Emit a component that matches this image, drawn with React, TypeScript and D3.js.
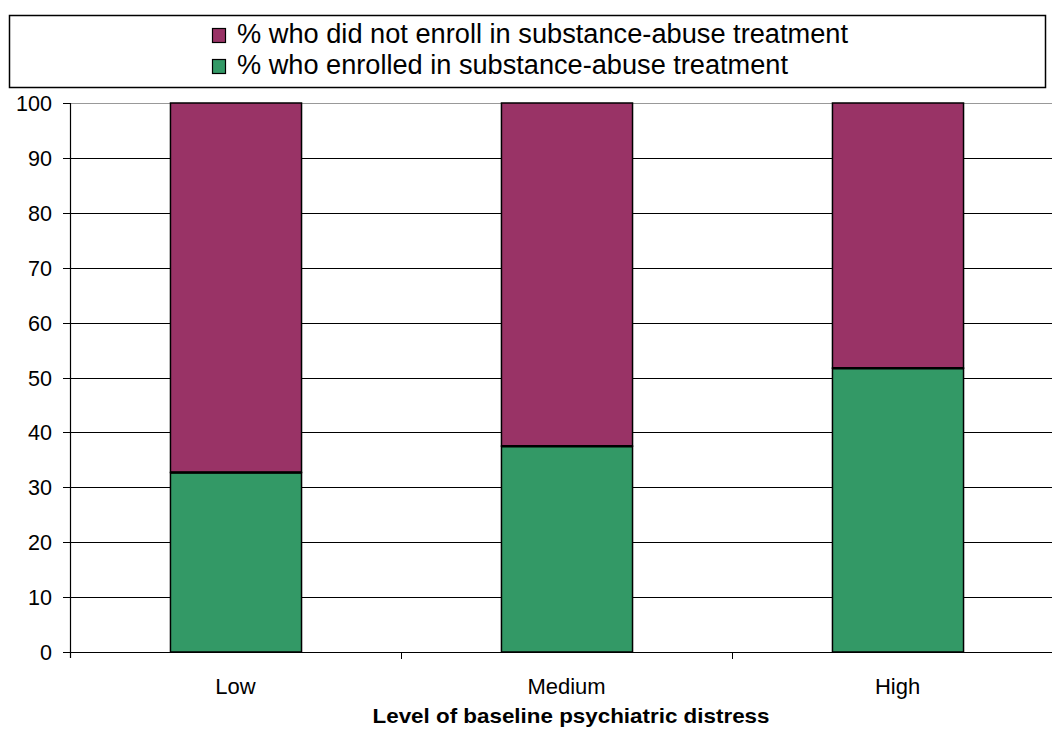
import React from "react";
import * as d3 from "d3";

const categories = ["Low", "Medium", "High"];
const enrolled = [32.7, 37.5, 51.7];
const notEnrolled = [67.3, 62.5, 48.3];
const seriesNames = [
  "% who did not enroll in substance-abuse treatment",
  "% who enrolled in substance-abuse treatment",
];
const yTicks = [0, 10, 20, 30, 40, 50, 60, 70, 80, 90, 100];
const xTitle = "Level of baseline psychiatric distress";

const W = 1052;
const H = 729;
const FONT = "'Liberation Sans', Arial, sans-serif";
const PURPLE = "#993366";
const GREEN = "#339966";

export default function App() {
  const x0 = 70;
  const band = 331;
  const x = d3
    .scaleBand<string>()
    .domain(categories)
    .range([x0, x0 + band * categories.length])
    .paddingInner(0.604)
    .paddingOuter(0.302);
  const y = d3.scaleLinear().domain([0, 100]).range([652, 103]);
  const outer = d3.scaleBand<string>().domain(categories).range([x0, x0 + band * categories.length]);

  const rows = categories.map((c, i) => ({ cat: c, enrolled: enrolled[i], notEnrolled: notEnrolled[i] }));
  const series = d3.stack<any>().keys(["enrolled", "notEnrolled"])(rows as any);

  const tickLabelWidth = (t: number) => String(t).length * 12;

  return (
    <svg width={W} height={H} style={{ position: "absolute", left: 0, top: 0, background: "#fff" }}>
      <rect x={0} y={0} width={W} height={H} fill="#fff" />
      {/* legend */}
      <rect x={9.5} y={15.5} width={1036} height={72} fill="#fff" stroke="#000" strokeWidth={1.5} />
      {[0, 1].map((i) => (
        <g key={i}>
          <rect
            x={212.5}
            y={28.5 + i * 31}
            width={13}
            height={14}
            fill={i === 0 ? PURPLE : GREEN}
            stroke="#000"
            strokeWidth={1.2}
          />
          <text
            x={237}
            y={43 + i * 31}
            fontFamily={FONT}
            fontSize={27}
            fill="#000"
            textLength={i === 0 ? 611 : 551}
            lengthAdjust="spacingAndGlyphs"
          >
            {seriesNames[i]}
          </text>
        </g>
      ))}
      {/* gridlines */}
      {yTicks.map((t) => (
        <line
          key={t}
          x1={x0}
          x2={W}
          y1={Math.round(y(t)) + 0.5}
          y2={Math.round(y(t)) + 0.5}
          stroke={t === 100 ? "#999" : "#000"}
          strokeWidth={1}
        />
      ))}
      {/* bars */}
      {series.map((s, si) =>
        s.map((d: any, i: number) => (
          <rect
            key={si + "-" + i}
            x={(x(categories[i]) as number) + 0.5}
            y={y(d[1])}
            width={x.bandwidth()}
            height={y(d[0]) - y(d[1])}
            fill={si === 0 ? GREEN : PURPLE}
            stroke="#000"
            strokeWidth={1.5}
          />
        ))
      )}
      {/* separator thick lines */}
      {categories.map((c, i) => (
        <line
          key={c}
          x1={(x(c) as number) + 0.5}
          x2={(x(c) as number) + 0.5 + x.bandwidth()}
          y1={y(enrolled[i])}
          y2={y(enrolled[i])}
          stroke="#000"
          strokeWidth={2.5}
        />
      ))}
      {/* y axis */}
      <line x1={x0 + 0.5} x2={x0 + 0.5} y1={103} y2={658} stroke="#000" strokeWidth={1.2} />
      {yTicks.map((t) => (
        <g key={t}>
          <line x1={63} x2={x0} y1={Math.round(y(t)) + 0.5} y2={Math.round(y(t)) + 0.5} stroke="#000" />
          <text
            x={52}
            y={y(t) + 8}
            textAnchor="end"
            fontFamily={FONT}
            fontSize={22}
            fill="#000"
            textLength={tickLabelWidth(t)}
            lengthAdjust="spacingAndGlyphs"
          >
            {t}
          </text>
        </g>
      ))}
      {/* x axis */}
      <line x1={x0} x2={W} y1={652.5} y2={652.5} stroke="#000" strokeWidth={1.2} />
      {categories.slice(1).map((c) => (
        <line
          key={c}
          x1={Math.round(outer(c) as number) + 0.5}
          x2={Math.round(outer(c) as number) + 0.5}
          y1={652}
          y2={659}
          stroke="#000"
        />
      ))}
      {categories.map((c) => (
        <text
          key={c}
          x={(outer(c) as number) + outer.bandwidth() / 2}
          y={694}
          textAnchor="middle"
          fontFamily={FONT}
          fontSize={22}
          fill="#000"
        >
          {c}
        </text>
      ))}
      <text
        x={571}
        y={723}
        textAnchor="middle"
        fontFamily={FONT}
        fontSize={21}
        fontWeight="bold"
        fill="#000"
        textLength={397}
        lengthAdjust="spacingAndGlyphs"
      >
        {xTitle}
      </text>
    </svg>
  );
}
